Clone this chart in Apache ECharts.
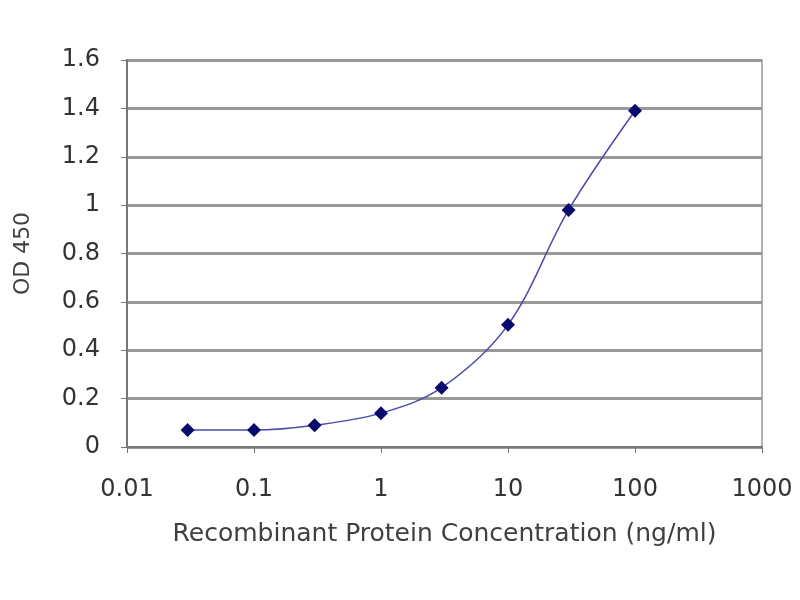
<!DOCTYPE html>
<html>
<head>
<meta charset="utf-8">
<script src="https://cdn.jsdelivr.net/npm/echarts@6/dist/echarts.min.js"></script>
<style>
  html, body { margin: 0; padding: 0; background: #fff; }
  #chart { width: 800px; height: 600px; }
</style>
</head>
<body>
<div id="chart"></div>
<script>
// concentrations (ng/ml) and OD 450 readings
var conc = [0.03, 0.1, 0.3, 1, 3, 10, 30, 100];
var od450 = [0.07, 0.07, 0.09, 0.14, 0.245, 0.505, 0.98, 1.39];
var yTicks = [0, 0.2, 0.4, 0.6, 0.8, 1, 1.2, 1.4, 1.6];

var points = conc.map(function (c, i) { return [c, od450[i]]; });

var font = 'DejaVu Sans';
var chart = echarts.init(document.getElementById('chart'));

chart.setOption({
  animation: false,
  backgroundColor: '#fff',
  grid: { left: 127, right: 38, top: 60, bottom: 153, show: true, borderColor: '#999', borderWidth: 1.5 },
  xAxis: {
    type: 'log',
    logBase: 10,
    min: 0.01,
    max: 1000,
    name: 'Recombinant Protein Concentration (ng/ml)',
    nameLocation: 'middle',
    nameGap: 75,
    nameTextStyle: { fontFamily: font, fontSize: 25, color: '#404040' },
    axisLine: { lineStyle: { color: '#777', width: 2 } },
    axisTick: { show: true, inside: false, length: 6, lineStyle: { color: '#777' } },
    axisLabel: {
      fontFamily: font, fontSize: 24, color: '#333', margin: 31,
      formatter: function (v) { return String(+v.toPrecision(3)); }
    },
    splitLine: { show: false },
    minorTick: { show: false }
  },
  yAxis: {
    type: 'value',
    min: 0,
    max: 1.6,
    interval: 0.2,
    name: 'OD 450',
    nameLocation: 'middle',
    nameGap: 93,
    nameRotate: 90,
    nameTextStyle: { fontFamily: font, fontSize: 22, color: '#404040' },
    axisLine: { show: true, lineStyle: { color: '#777', width: 2 } },
    axisTick: { show: true, length: 6, lineStyle: { color: '#777' } },
    axisLabel: {
      fontFamily: font, fontSize: 24, color: '#333', margin: 27,
      formatter: function (v) {
        var s = String(+v.toFixed(1));
        return yTicks.indexOf(+v.toFixed(1)) >= 0 ? s : '';
      }
    },
    splitLine: { show: true, lineStyle: { color: '#999', width: 3 } }
  },
  series: [{
    type: 'line',
    data: points,
    smooth: 0.35,
    symbol: 'diamond',
    symbolSize: 14,
    itemStyle: { color: '#0a0a6e' },
    lineStyle: { color: '#4a4aa8', width: 1.5 }
  }]
});
</script>
</body>
</html>
